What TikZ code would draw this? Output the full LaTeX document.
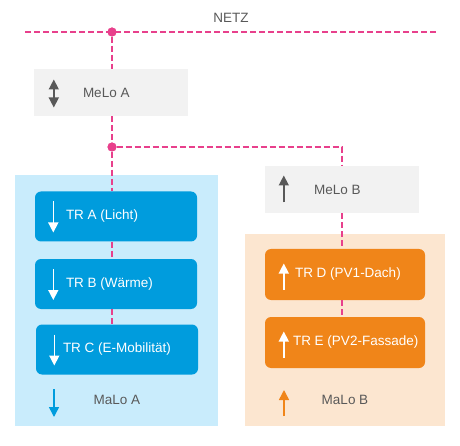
\documentclass[tikz,border=0pt]{standalone}
\usepackage{fontspec}
\setmainfont{Liberation Sans}
\usepackage{tikz}
\usetikzlibrary{arrows.meta}
\usetikzlibrary{positioning}
\usepackage{xcolor}
\definecolor{netzpink}{RGB}{232,64,140}
\definecolor{trblau}{RGB}{0,156,221}
\definecolor{hellblau}{RGB}{201,236,252}
\definecolor{trorange}{RGB}{240,133,25}
\definecolor{hellorange}{RGB}{252,230,208}
\definecolor{melograu}{RGB}{242,242,242}
\definecolor{textgrau}{RGB}{89,89,89}

\tikzset{
  schrift/.style={font=\fontsize{13.5}{16}\selectfont},
  netz/.style={netzpink, line width=1.6pt, dash pattern=on 6pt off 3pt},
  knoten/.style={circle, fill=netzpink, inner sep=0pt, minimum size=9pt},
  melo/.style={fill=melograu, minimum width=154pt, minimum height=47pt, inner sep=0pt},
  trbox/.style={rounded corners=6pt, minimum width=162pt, minimum height=50pt, inner sep=0pt},
  beschriftung/.style={schrift, inner sep=0pt, anchor=west},
  pfeil/.style={line width=1.5pt, -{Triangle[width=10pt,length=10pt]}},
  doppelpfeil/.style={line width=1.5pt, {Triangle[width=10pt,length=10pt]}-{Triangle[width=10pt,length=10pt]}},
}

\begin{document}
\begin{tikzpicture}[x=1pt, y=-1pt]
  \useasboundingbox (0,0) rectangle (460,446);

  % Bereiche
  \node[fill=hellblau, minimum width=203pt, minimum height=251pt, inner sep=0pt] (bereichA) at (116.5,300.5) {};
  \node[fill=hellorange, minimum width=200pt, minimum height=192pt, inner sep=0pt] (bereichB) at (345,330) {};

  % Netz
  \coordinate (netzL) at (25,32);
  \coordinate (netzR) at (437,32);
  \node[schrift, text=textgrau] (netz) at (231,18) {NETZ};
  \draw[netz] (netzL) -- (netzR);
  \node[knoten] (punktA) at (112,32) {};

  % Messlokationen
  \node[melo] (meloA) at (111,92.5) {};
  \node[beschriftung, text=textgrau, right=49pt of meloA.west] {MeLo A};
  \draw[doppelpfeil, textgrau] ([xshift=20pt,yshift=13pt]meloA.west) -- ([xshift=20pt,yshift=-15pt]meloA.west);

  \node[knoten] (punktB) at (112,147) {};
  \node[melo] (meloB) at (342,189.5) {};
  \node[beschriftung, text=textgrau, right=49pt of meloB.west] {MeLo B};
  \draw[pfeil, textgrau] ([xshift=19pt,yshift=-13pt]meloB.west) -- ([xshift=19pt,yshift=14pt]meloB.west);

  % Teilrechnungen A
  \node[trbox, fill=trblau] (trA) at (116,216.5) {};
  \node[trbox, fill=trblau] (trB) at (116,284) {};
  \node[trbox, fill=trblau] (trC) at (117,349.5) {};
  \node[beschriftung, text=white, right=31pt of trA.west] {TR A (Licht)};
  \node[beschriftung, text=white, right=31pt of trB.west] {TR B (Wärme)};
  \node[beschriftung, text=white, right=27pt of trC.west] {TR C (E-Mobilität)};
  \foreach \tr in {trA,trB,trC}
    \draw[pfeil, white] ([xshift=18.5pt,yshift=15pt]\tr.west) -- ([xshift=18.5pt,yshift=-16pt]\tr.west);

  % Teilrechnungen B
  \node[trbox, fill=trorange, minimum width=160pt, minimum height=51pt] (trD) at (345,274.5) {};
  \node[trbox, fill=trorange, minimum width=160pt, minimum height=51pt] (trE) at (345,342.5) {};
  \node[beschriftung, text=white, right=30pt of trD.west] {TR D (PV1-Dach)};
  \node[beschriftung, text=white, right=28pt of trE.west] {TR E (PV2-Fassade)};
  \foreach \tr in {trD,trE}
    \draw[pfeil, white] ([xshift=19pt,yshift=-15pt]\tr.west) -- ([xshift=19pt,yshift=11pt]\tr.west);

  % Marktlokationen
  \node[schrift, text=textgrau, inner sep=0pt] (maloA) at (117,400) {MaLo A};
  \node[schrift, text=textgrau, inner sep=0pt] (maloB) at (345,400) {MaLo B};
  \draw[pfeil, trblau] ([xshift=-63pt,yshift=11pt]maloA.center) -- ([xshift=-63pt,yshift=-17pt]maloA.center);
  \draw[pfeil, trorange] ([xshift=-61pt,yshift=-16pt]maloB.center) -- ([xshift=-61pt,yshift=10pt]maloB.center);

  % Leitungen
  \draw[netz] (punktA) -- (punktA |- meloA.north);
  \draw[netz] (punktB |- meloA.south) -- (punktB);
  \draw[netz] (punktB) -| (meloB.north);
  \draw[netz] (punktB) -- (punktB |- trA.north);
  \draw[netz] (punktB |- trA.south) -- (punktB |- trB.north);
  \draw[netz] (punktB |- trB.south) -- (punktB |- trC.north);
  \draw[netz] (meloB.south) -- (meloB.south |- trD.north);
  \draw[netz] (meloB.south |- trD.south) -- (meloB.south |- trE.north);
  \node[knoten] at (punktA) {};
  \node[knoten] at (punktB) {};
\end{tikzpicture}
\end{document}
